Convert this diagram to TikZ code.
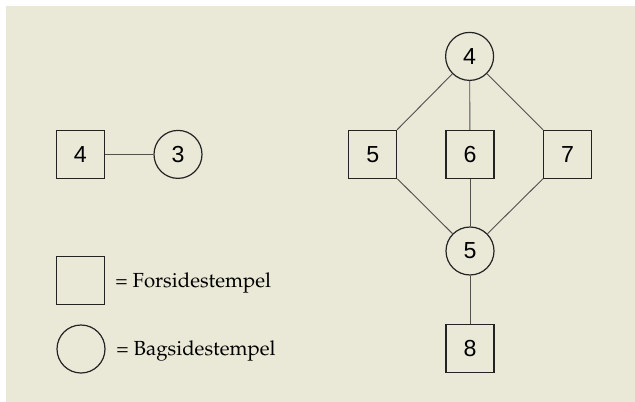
\documentclass[tikz,border=0pt]{standalone}
\usepackage[T1]{fontenc}
\usepackage{fontspec}
\setsansfont{Liberation Sans}
\newcommand{\legendfont}{\usefont{T1}{ppl}{m}{n}}
\definecolor{papir}{RGB}{234,232,214}
\definecolor{kant}{RGB}{35,35,35}
\definecolor{streg}{RGB}{80,80,80}
\begin{document}
\begin{tikzpicture}[
        forside/.style={draw=kant, line width=0.85pt, rectangle, minimum size=1.2cm, inner sep=0pt, font=\sffamily\fontsize{16.5}{16.5}\selectfont},
        bagside/.style={draw=kant, line width=0.85pt, circle, minimum size=1.2cm, inner sep=0pt, font=\sffamily\fontsize{16.5}{16.5}\selectfont},
        kobling/.style={draw=streg, line width=0.65pt},
        forklaring/.style={anchor=base west, inner sep=0pt, font=\legendfont\fontsize{14.5}{14.5}\selectfont}
    ]
        % Background
        \useasboundingbox (0, 0) rectangle (15.875, -10.05);
        \fill[papir] (0.15, -0.15) rectangle (15.875, -10.05);

        % Left pair
        \node[forside] (f4) at (2.01, -3.86) {4};
        \node[bagside] (b3) at (4.45, -3.86) {3};
        \draw[kobling] (f4) -- (b3);

        % Right graph
        \node[bagside] (b4) at (11.74, -1.41) {4};
        \node[forside] (f5) at (9.32, -3.86) {5};
        \node[forside] (f6) at (11.75, -3.86) {6};
        \node[forside] (f7) at (14.19, -3.86) {7};
        \node[bagside] (b5) at (11.75, -6.275) {5};
        \node[forside] (f8) at (11.75, -8.72) {8};

        \foreach \f in {f5, f6, f7} {
            \draw[kobling] (b4) -- (\f);
            \draw[kobling] (\f) -- (b5);
        }
        \draw[kobling] (b5) -- (f8);

        % Legend
        \node[forside] (lf) at (2.01, -7.01) {};
        \node[bagside] (lb) at (2.025, -8.725) {};
        \node[forklaring] (tf) at (2.875, -7.175) {= Forsidestempel};
        \node[forklaring] (tb) at (2.9, -8.875) {= Bagsidestempel};
    \end{tikzpicture}
\end{document}
